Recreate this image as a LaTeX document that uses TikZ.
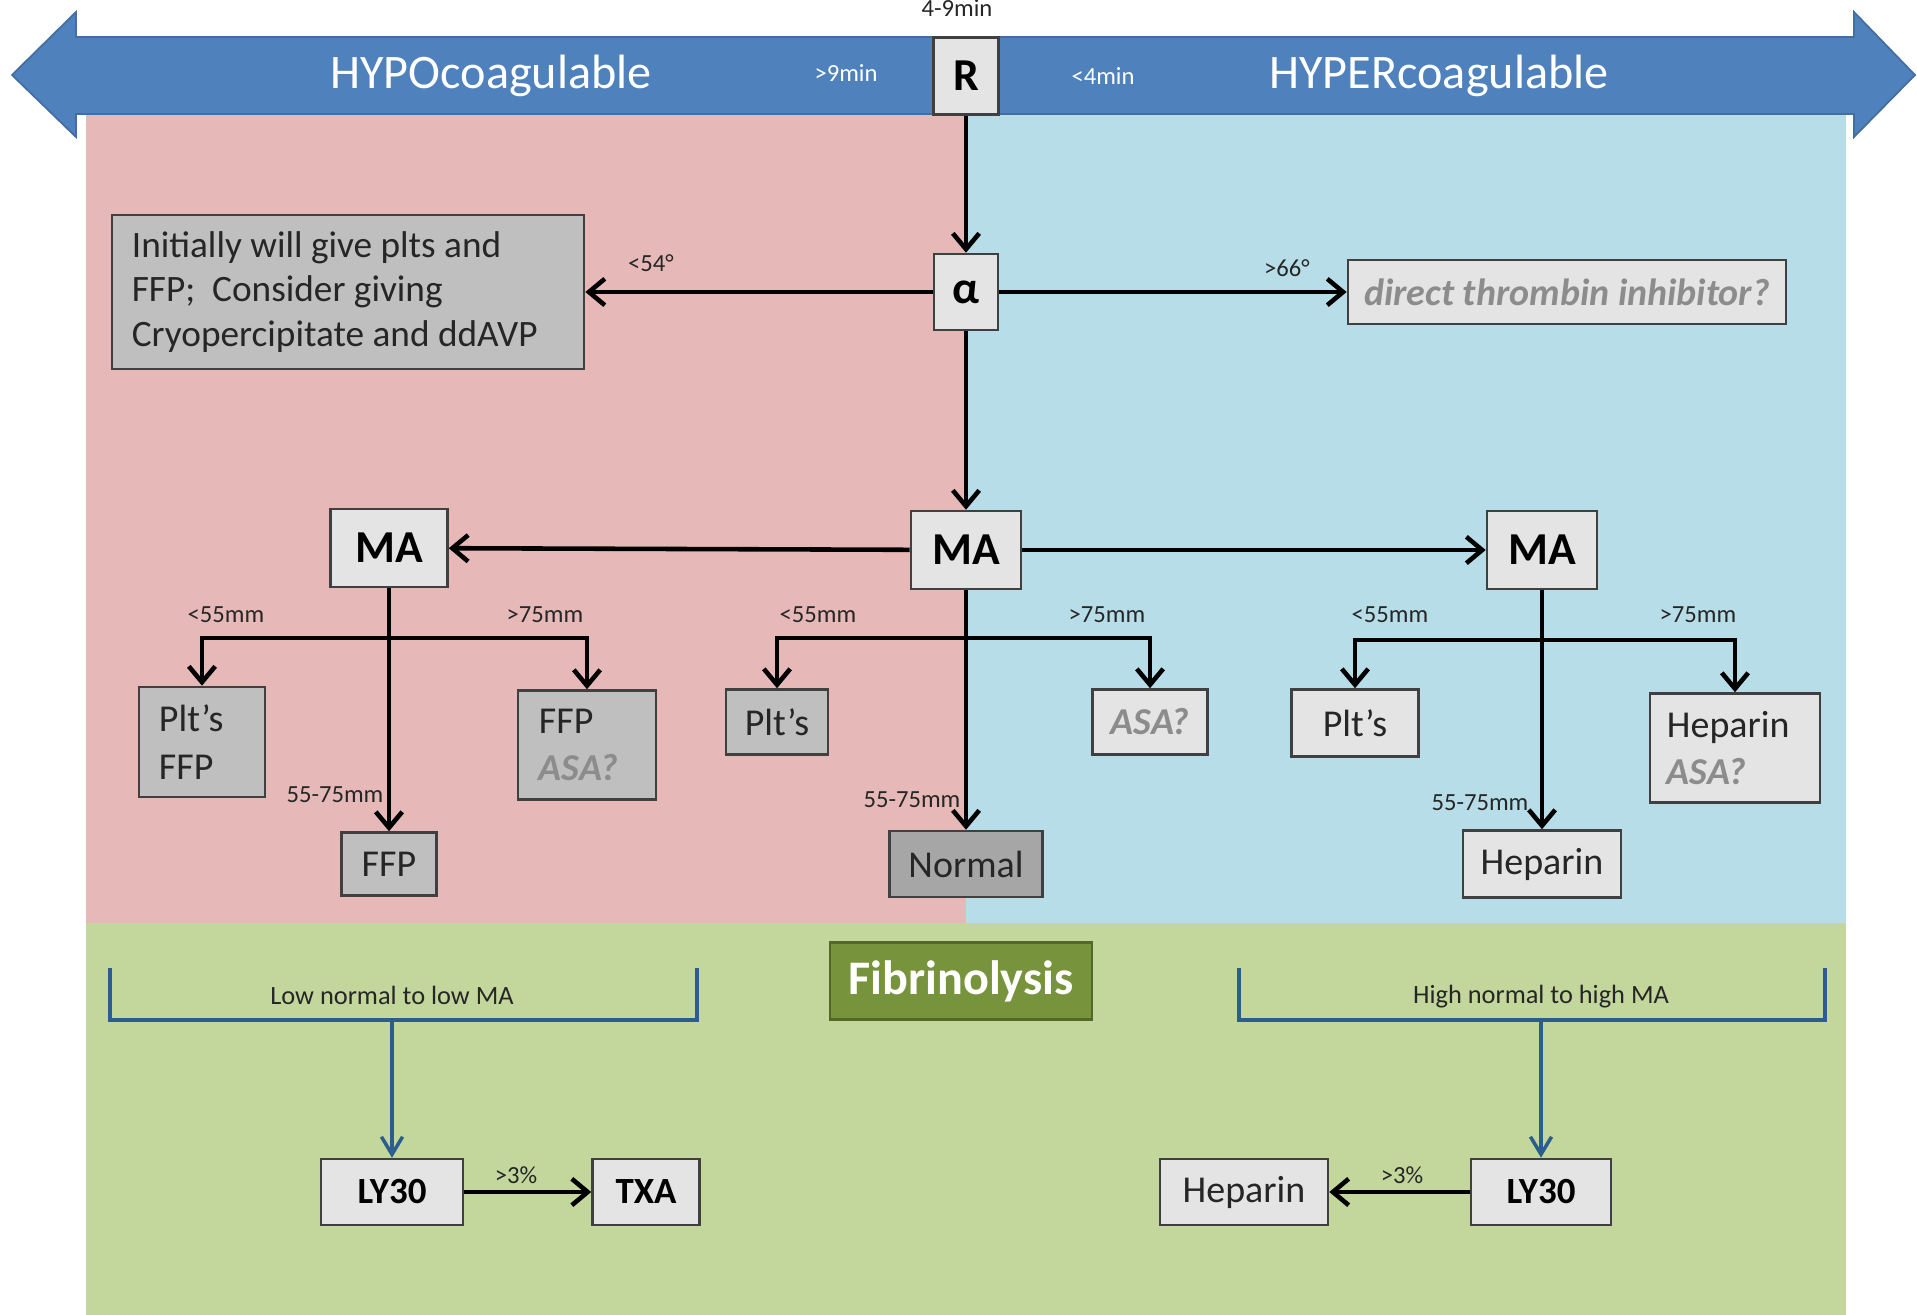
\documentclass[tikz,border=0pt]{standalone}
\usepackage{fontspec}
\setmainfont{Carlito}
\usetikzlibrary{arrows.meta, positioning, calc}
\definecolor{hypo}{HTML}{E6B9B8}
\definecolor{hyper}{HTML}{B7DEE8}
\definecolor{lysis}{HTML}{C3D69B}
\definecolor{scale}{HTML}{4F81BD}
\definecolor{fibro}{HTML}{77933C}
\definecolor{lightbox}{HTML}{E4E4E4}
\definecolor{midbox}{HTML}{BFBFBF}
\definecolor{darkbox}{HTML}{A6A6A6}
\definecolor{qgray}{HTML}{8C8C8C}
\definecolor{bracket}{HTML}{2C5D8F}
\tikzset{
	px/.style={x=0.01cm, y=-0.01cm},
	box/.style={draw=black!75, line width=0.7pt, fill=lightbox, text=black!85,
		font=\fontsize{10.8}{13.5}\selectfont, inner sep=0pt, align=flush left},
	gbox/.style={box, fill=midbox},
	head/.style={box, text=black, font=\fontsize{13}{15}\selectfont\bfseries, align=center},
	lybox/.style={box, text=black, font=\fontsize{10.5}{12}\selectfont\bfseries},
	lbl/.style={font=\fontsize{7}{8}\selectfont, text=black!85, inner sep=0pt},
	side/.style={font=\fontsize{13.7}{16}\selectfont, text=white},
	flow/.style={-{Straight Barb[length=4.5pt,width=7.5pt]}, line width=1.3pt},
	blueflow/.style={-{Straight Barb[length=5pt,width=6pt]}, line width=1pt, draw=bracket},
	brk/.style={draw=bracket, line width=1.2pt},
	ask/.style={text=qgray, font=\fontsize{10.8}{13.5}\selectfont\bfseries\itshape},
}

\begin{document}
\begin{tikzpicture}[px]
	\useasboundingbox (0,0) rectangle (1917,1315);
	% panels
	\fill[hypo] (86,114) rectangle (966,923);
	\fill[hyper] (966,114) rectangle (1846,923);
	\fill[lysis] (86,923) rectangle (1846,1315);

	% R time scale
	\draw[fill=scale, draw=scale!85!black, line width=0.5pt] (12,75) -- (76,12) -- (76,37) -- (1854,37) -- (1854,12) -- (1915,75) -- (1854,137) -- (1854,114) -- (76,114) -- (76,137) -- cycle;
	\node[side] (hypo) at (491,76) {HYPOcoagulable};
	\node[side] (hyper) at (1439,76) {HYPERcoagulable};
	\node[lbl, text=white] (slow) at (846,73) {>9min};
	\node[lbl, text=white] (fast) at (1103,76) {<4min};
	\node[lbl] (rnorm) at (957,8) {4-9min};

	\node[head, minimum width=0.65cm, minimum height=0.77cm] (R) at (966,76) {R};
	\node[head, minimum width=0.64cm, minimum height=0.76cm] (alpha) at (966,292) {α};
	\node[gbox, minimum width=4.72cm, minimum height=1.54cm, text width=4.32cm, font=\fontsize{10.6}{12.7}\selectfont] (init) at (348,292) {Initially will give plts and\\FFP;\ \ Consider giving\\Cryopercipitate and ddAVP};
	\node[box, ask, minimum width=4.38cm, minimum height=0.64cm] (dti) at (1567,292) {direct thrombin inhibitor?};
	\node[lbl] (lowang) at (651,263) {<54°};
	\node[lbl] (highang) at (1287,268) {>66°};

	\draw[flow] (R) -- (alpha);
	\draw[flow] (alpha) -- (init);
	\draw[flow] (alpha) -- (dti);

	% MA
	\node[head, minimum width=1.17cm, minimum height=0.78cm] (maL) at (389,548) {MA};
	\node[head, minimum width=1.10cm, minimum height=0.78cm] (maC) at (966,550) {MA};
	\node[head, minimum width=1.10cm, minimum height=0.78cm] (maR) at (1542,550) {MA};
	\draw[flow] (alpha) -- (maC);
	\draw[flow] (maC) -- (maL);
	\draw[flow] (maC) -- (maR);

	% low MA branch
	\node[gbox, minimum width=1.26cm, minimum height=1.10cm, text width=0.86cm] (pltL) at (202,742) {Plt’s\\FFP};
	\node[gbox, minimum width=1.38cm, minimum height=1.09cm, text width=0.96cm] (ffpasaL) at (587,745) {FFP\\\textcolor{qgray}{\bfseries\itshape ASA?}};
	\node[gbox, minimum width=0.95cm, minimum height=0.63cm] (ffpL) at (389,864) {FFP};
	\coordinate (forkL) at (389,638);
	\draw[flow] (maL) -- (ffpL);
	\draw[flow] (forkL) -| (pltL);
	\draw[flow] (forkL) -| (ffpasaL);
	\node[lbl] (ltL) at (226,615) {<55mm};
	\node[lbl] (gtL) at (545,615) {>75mm};
	\node[lbl] (midL) at (335,795) {55-75mm};

	% normal MA branch
	\node[gbox, minimum width=1.02cm, minimum height=0.65cm] (pltC) at (777,722) {Plt’s};
	\node[box, ask, minimum width=1.15cm, minimum height=0.65cm] (asaC) at (1150,722) {ASA?};
	\node[box, fill=darkbox, minimum width=1.53cm, minimum height=0.66cm] (normC) at (966,864) {Normal};
	\coordinate (forkC) at (966,638);
	\draw[flow] (maC) -- (normC);
	\draw[flow] (forkC) -| (pltC);
	\draw[flow] (forkC) -| (asaC);
	\node[lbl] (ltC) at (818,615) {<55mm};
	\node[lbl] (gtC) at (1107,615) {>75mm};
	\node[lbl] (midC) at (912,800) {55-75mm};

	% high MA branch
	\node[box, minimum width=1.27cm, minimum height=0.67cm] (pltR) at (1355,723) {Plt’s};
	\node[box, minimum width=1.70cm, minimum height=1.09cm, text width=1.36cm] (hepasaR) at (1735,748) {Heparin\\\textcolor{qgray}{\bfseries\itshape ASA?}};
	\node[box, minimum width=1.58cm, minimum height=0.67cm] (hepR) at (1542,864) {Heparin};
	\coordinate (forkR) at (1542,640);
	\draw[flow] (maR) -- (hepR);
	\draw[flow] (forkR) -| (pltR);
	\draw[flow] (forkR) -| (hepasaR);
	\node[lbl] (ltR) at (1390,615) {<55mm};
	\node[lbl] (gtR) at (1698,615) {>75mm};
	\node[lbl] (midR) at (1480,803) {55-75mm};

	% fibrinolysis
	\node[draw=fibro!70!black, line width=0.8pt, fill=fibro, text=white, font=\fontsize{13.7}{16}\selectfont\bfseries, minimum width=2.62cm, minimum height=0.77cm] (fib) at (961,981) {Fibrinolysis};
	\draw[brk] (110,968) -- (110,1020) -- (697,1020) -- (697,968);
	\draw[brk] (1239,968) -- (1239,1020) -- (1825,1020) -- (1825,968);
	\node[lbl, font=\fontsize{7.5}{9}\selectfont] (lowma) at (392,995) {Low normal to low MA};
	\node[lbl, font=\fontsize{7.5}{9}\selectfont] (highma) at (1541,997) {High normal to high MA};
	\coordinate (brL) at (392,1020);
	\coordinate (brR) at (1541,1020);

	\node[lybox, minimum width=1.42cm, minimum height=0.66cm] (lyL) at (392,1192) {LY30};
	\node[lybox, minimum width=1.07cm, minimum height=0.66cm] (txa) at (646,1192) {TXA};
	\node[lybox, minimum width=1.40cm, minimum height=0.66cm] (lyR) at (1541,1192) {LY30};
	\node[box, minimum width=1.68cm, minimum height=0.66cm] (hepB) at (1244,1192) {Heparin};
	\draw[blueflow] (brL) -- (lyL);
	\draw[blueflow] (brR) -- (lyR);
	\draw[flow] (lyL) -- (txa);
	\draw[flow] (lyR) -- (hepB);
	\node[lbl] (pctL) at (516,1175) {>3\%};
	\node[lbl] (pctR) at (1402,1175) {>3\%};
\end{tikzpicture}
\end{document}
